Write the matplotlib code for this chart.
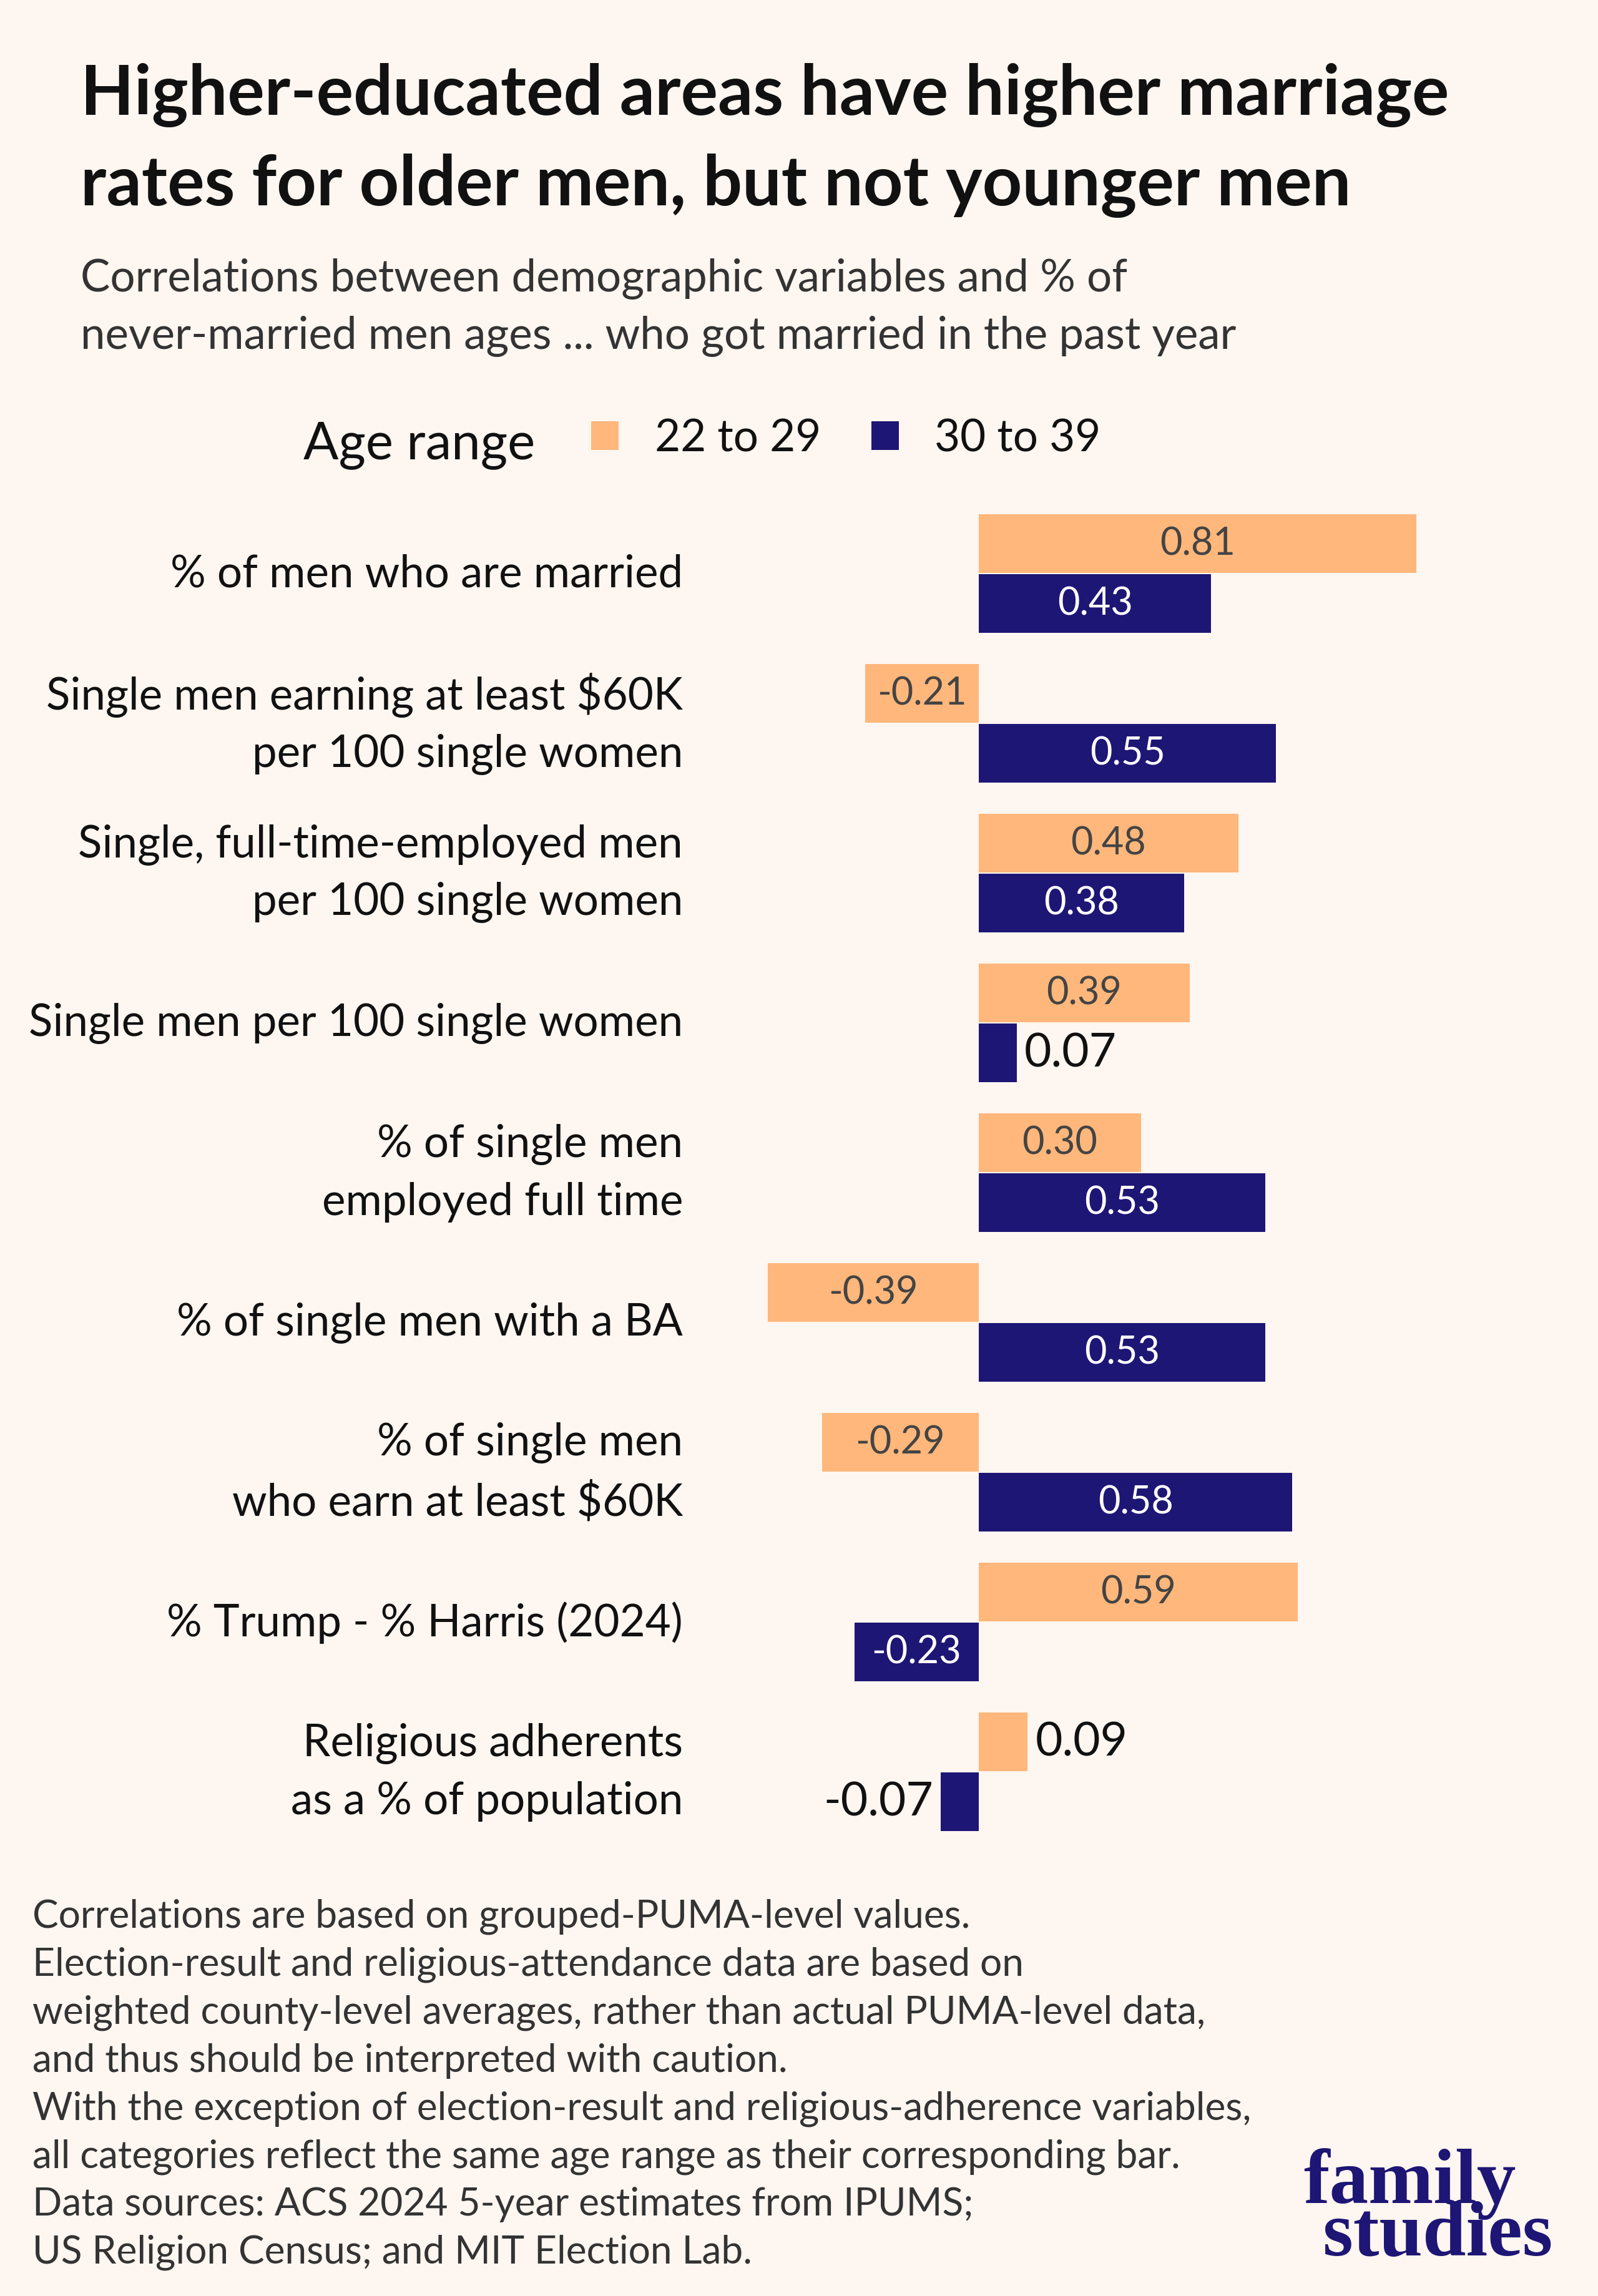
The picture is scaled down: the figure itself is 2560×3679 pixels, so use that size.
import matplotlib
matplotlib.use("Agg")
import matplotlib.pyplot as plt
from matplotlib.patches import Rectangle
import numpy as np

# ---------------- data ----------------
categories = [
    "% of men who are married",
    "Single men earning at least $60K\nper 100 single women",
    "Single, full-time-employed men\nper 100 single women",
    "Single men per 100 single women",
    "% of single men\nemployed full time",
    "% of single men with a BA",
    "% of single men\nwho earn at least $60K",
    "% Trump - % Harris (2024)",
    "Religious adherents\nas a % of population",
]
age_22_29 = [0.81, -0.21, 0.48, 0.39, 0.30, -0.39, -0.29, 0.59, 0.09]
age_30_39 = [0.43, 0.55, 0.38, 0.07, 0.53, 0.53, 0.58, -0.23, -0.07]
series_names = ["22 to 29", "30 to 39"]

title_lines = ["Higher-educated areas have higher marriage",
               "rates for older men, but not younger men"]
subtitle_lines = ["Correlations between demographic variables and % of",
                  "never-married men ages ... who got married in the past year"]
footer_lines = [
    "Correlations are based on grouped-PUMA-level values.",
    "Election-result and religious-attendance data are based on",
    "weighted county-level averages, rather than actual PUMA-level data,",
    "and thus should be interpreted with caution.",
    "With the exception of election-result and religious-adherence variables,",
    "all categories reflect the same age range as their corresponding bar.",
    "Data sources: ACS 2024 5-year estimates from IPUMS;",
    "US Religion Census; and MIT Election Lab.",
]

# ---------------- style ----------------
BG = "#FEF6F0"
ORANGE = "#FFB77B"
NAVY = "#1E1675"
FONT = ["Lato", "DejaVu Sans"]

W, H, DPI = 2560, 3680, 200
fig = plt.figure(figsize=(W / DPI, H / DPI), dpi=DPI, facecolor=BG)

def fx(px):
    return px / W

def fy(py):
    return 1 - py / H

# axes placement (pixel based layout)
ax_left_px, ax_right_px = 1000, 2500
ax_top_px, ax_bot_px = 800, 2960
ax = fig.add_axes([fx(ax_left_px), fy(ax_bot_px),
                   (ax_right_px - ax_left_px) / W, (ax_bot_px - ax_top_px) / H])
ax.set_facecolor(BG)
zero_px, unit_px = 1568, 866
ax.set_xlim((ax_left_px - zero_px) / unit_px, (ax_right_px - zero_px) / unit_px)
ax.set_ylim(len(categories) - 0.5, -0.5)
for s in ax.spines.values():
    s.set_visible(False)
ax.set_xticks([])
ax.set_yticks([])

y = np.arange(len(categories))
bh = 0.392
off = 0.2
bars1 = ax.barh(y - off, age_22_29, height=bh, color=ORANGE, linewidth=0)
bars2 = ax.barh(y + off, age_30_39, height=bh, color=NAVY, linewidth=0)

small = 0.12
for bars, vals, tcol in [(bars1, age_22_29, "#444444"), (bars2, age_30_39, "white")]:
    for b, v in zip(bars, vals):
        yc = b.get_y() + b.get_height() / 2
        if abs(v) >= small:
            ax.text(v / 2, yc, f"{v:.2f}", ha="center", va="center",
                    fontsize=22, color=tcol, family=FONT)
        else:
            ax.annotate(f"{v:.2f}", (v, yc), xytext=(4.5 if v > 0 else -4.5, 0),
                        textcoords="offset points",
                        ha="left" if v > 0 else "right", va="center",
                        fontsize=27, color="#111111", family=FONT)

# category labels
label_x = (1094 - zero_px) / unit_px
for i, c in enumerate(categories):
    ax.text(label_x, i, c, ha="right", va="center", fontsize=25.5,
            color="#111111", family=FONT, linespacing=1.5)

# title
for i, line in enumerate(title_lines):
    fig.text(fx(129), fy(184 + i * 145), line, fontsize=40, fontweight="bold",
             color="#111111", family=FONT, va="baseline", ha="left")
# subtitle
for i, line in enumerate(subtitle_lines):
    fig.text(fx(129), fy(467 + i * 92), line, fontsize=25.5,
             color="#333333", family=FONT, va="baseline", ha="left")

# legend
fig.text(fx(486), fy(735), "Age range", fontsize=30, color="#111111",
         family=FONT, va="baseline", ha="left")
for (sx, tx), name, col in zip([(947, 1049), (1396, 1497)], series_names, [ORANGE, NAVY]):
    fig.patches.append(Rectangle((fx(sx), fy(722)), 44 / W, 46 / H,
                                 transform=fig.transFigure, color=col, linewidth=0))
    fig.text(fx(tx), fy(724), name, fontsize=25.5, color="#111111",
             family=FONT, va="baseline", ha="left")

# footer
for i, line in enumerate(footer_lines):
    fig.text(fx(52), fy(3089 + i * 76.85), line, fontsize=22.4,
             color="#333333", family=FONT, va="baseline", ha="left")

# logo (single text block; baseline refers to the last line)
logo_font = ["Liberation Serif", "DejaVu Serif"]
fig.text(fx(2088), fy(3614), "family\n studies", fontsize=45, fontweight="bold",
         color=NAVY, family=logo_font, va="baseline", ha="left",
         multialignment="left", linespacing=0.66)

fig.savefig("out.png", dpi=DPI, facecolor=BG)
